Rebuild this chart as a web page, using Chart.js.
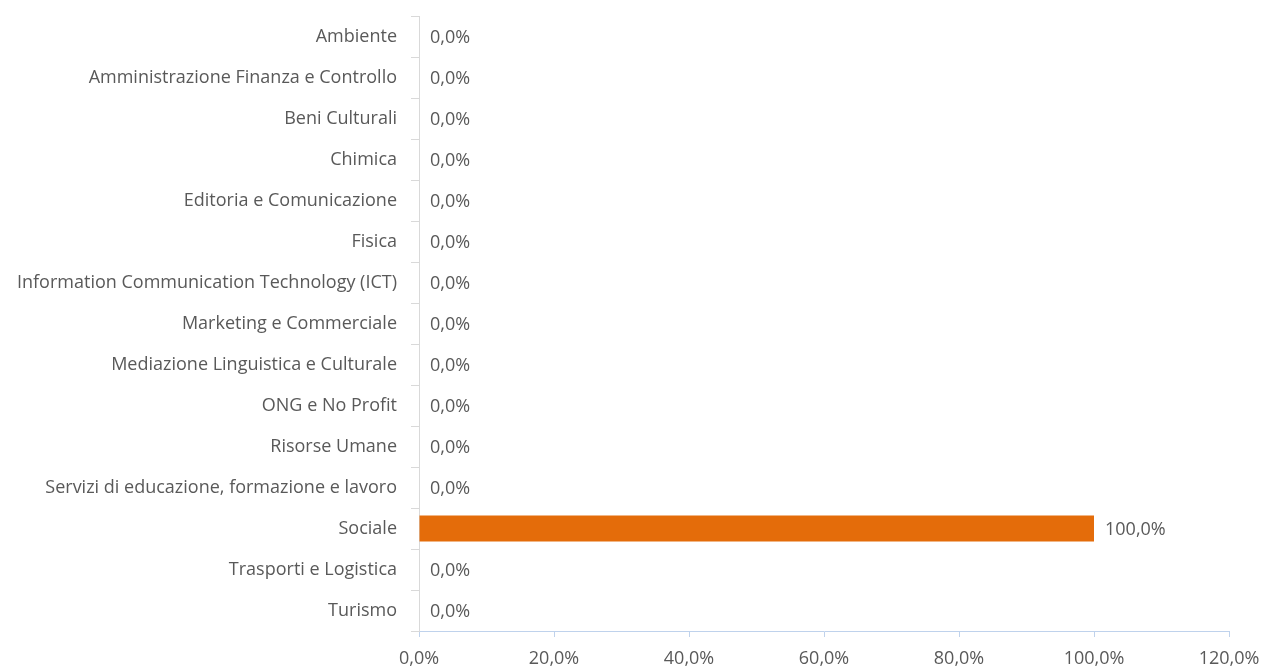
<!DOCTYPE html>
<html>
<head>
<meta charset="utf-8">
<script src="https://cdn.jsdelivr.net/npm/chart.js@4"></script>
<style>
  html, body { margin: 0; padding: 0; background: #fff; }
  #wrap { width: 1264px; height: 669px; }
</style>
</head>
<body>
<div id="wrap"><canvas id="barChart"></canvas></div>
<script>
var categories = [
    'Ambiente',
    'Amministrazione Finanza e Controllo',
    'Beni Culturali',
    'Chimica',
    'Editoria e Comunicazione',
    'Fisica',
    'Information Communication Technology (ICT)',
    'Marketing e Commerciale',
    'Mediazione Linguistica e Culturale',
    'ONG e No Profit',
    'Risorse Umane',
    'Servizi di educazione, formazione e lavoro',
    'Sociale',
    'Trasporti e Logistica',
    'Turismo'
];
var percentages = [0, 0, 0, 0, 0, 0, 0, 0, 0, 0, 0, 0, 100, 0, 0];
var x_min = 0;
var x_max = 120;
var x_step = 20;

function fmt(v) {
    return Number(v).toFixed(1).replace('.', ',') + '%';
}

var font_family = "'Open Sans', sans-serif";
var font_size = 18;
var text_color = '#595959';

// draws the value next to the end of each bar
var valueLabels = {
    id: 'valueLabels',
    afterDatasetsDraw: function (chart) {
        var ctx = chart.ctx;
        var meta = chart.getDatasetMeta(0);
        ctx.save();
        ctx.font = font_size + 'px ' + font_family;
        ctx.fillStyle = text_color;
        ctx.textAlign = 'left';
        ctx.textBaseline = 'middle';
        meta.data.forEach(function (bar, i) {
            ctx.fillText(fmt(percentages[i]), bar.x + 11, bar.y + 1);
        });
        ctx.restore();
    }
};

var ctx = document.getElementById('barChart').getContext('2d');
new Chart(ctx, {
    type: 'bar',
    data: {
        labels: categories,
        datasets: [{
            data: percentages,
            backgroundColor: '#E46C0A',
            barPercentage: 0.64,
            categoryPercentage: 1
        }]
    },
    options: {
        indexAxis: 'y',
        responsive: true,
        maintainAspectRatio: false,
        animation: false,
        layout: { padding: { top: 16, right: 35, bottom: 0, left: 0 } },
        plugins: {
            legend: { display: false },
            tooltip: { enabled: false }
        },
        scales: {
            x: {
                min: x_min,
                max: x_max,
                afterFit: function (scale) {
                    scale.height = 38;
                    scale.paddingLeft = 0;
                    scale.paddingRight = 0;
                },
                ticks: {
                    stepSize: x_step,
                    callback: function (v) { return fmt(v); },
                    color: text_color,
                    font: { size: font_size, family: font_family },
                    padding: 11,
                    maxRotation: 0
                },
                grid: {
                    drawOnChartArea: false,
                    drawTicks: true,
                    tickLength: 6,
                    color: '#bfd2ec'
                },
                border: { color: '#bfd2ec' }
            },
            y: {
                afterFit: function (scale) {
                    scale.width = 419;
                    scale.paddingTop = 0;
                    scale.paddingBottom = 0;
                },
                ticks: {
                    color: text_color,
                    font: { size: font_size, family: font_family },
                    padding: 14
                },
                grid: {
                    drawOnChartArea: false,
                    drawTicks: true,
                    tickLength: 8,
                    offset: true,
                    color: '#d9d9d9'
                },
                border: { color: '#d9d9d9' }
            }
        }
    },
    plugins: [valueLabels]
});
</script>
</body>
</html>
